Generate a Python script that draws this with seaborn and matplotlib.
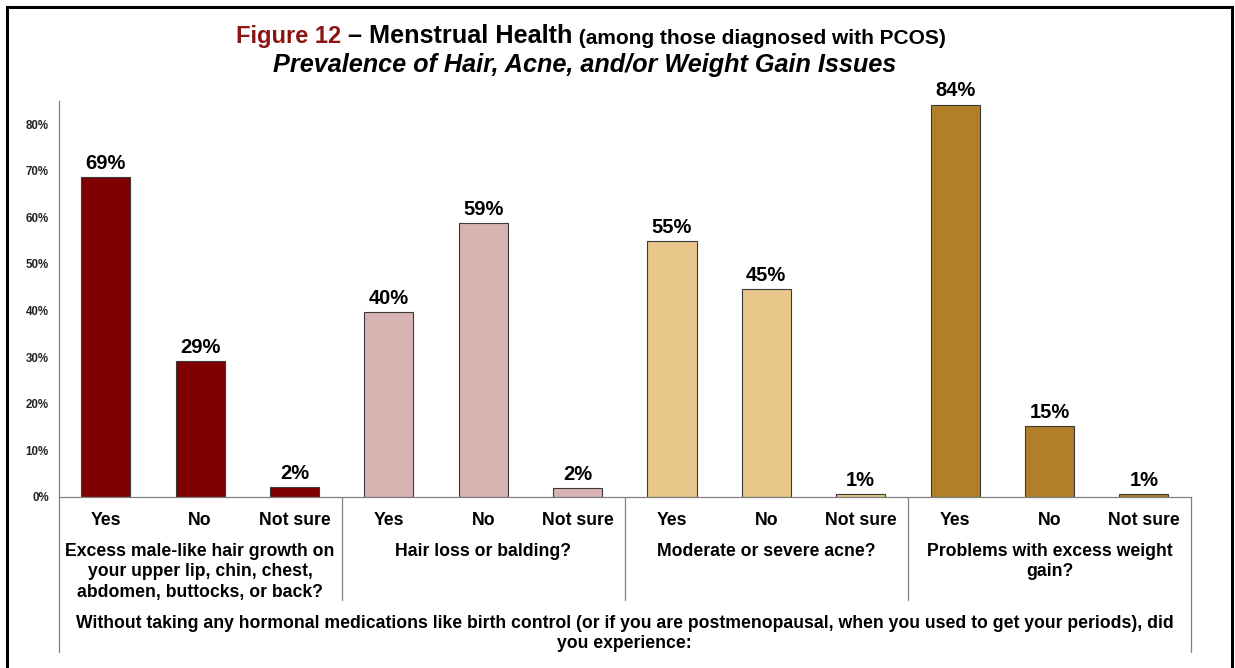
import matplotlib.pyplot as plt
import matplotlib.transforms as mtransforms
from matplotlib.patches import Rectangle
import pandas as pd
import seaborn as sns

# Data
groups = [
    "Excess male-like hair growth on\nyour upper lip, chin, chest,\nabdomen, buttocks, or back?",
    "Hair loss or balding?",
    "Moderate or severe acne?",
    "Problems with excess weight\ngain?",
]
answers = ["Yes", "No", "Not sure"]
hair_growth = [68.7, 29.2, 2.1]
hair_loss = [39.6, 58.7, 1.9]
acne = [54.9, 44.6, 0.6]
weight_gain = [84.2, 15.2, 0.6]
group_colors = ["#800000", "#D9B2B2", "#E9C78B", "#B07F27"]
y_ticks = [0, 10, 20, 30, 40, 50, 60, 70, 80]

# long format table for seaborn
rows = []
for g, vals in zip(groups, [hair_growth, hair_loss, acne, weight_gain]):
    for a, v in zip(answers, vals):
        rows.append({"bar": g + "|" + a, "group": g, "answer": a, "value": v})
df = pd.DataFrame(rows)

sns.set_style("white")
plt.rcParams["font.family"] = ["Liberation Sans", "DejaVu Sans"]
plt.rcParams["font.weight"] = "bold"
plt.rcParams["text.color"] = "black"
plt.rcParams["xtick.color"] = "black"
plt.rcParams["ytick.color"] = "black"

fig = plt.figure(figsize=(12.35, 6.68), dpi=100)
ax = fig.add_axes([0.0474, 0.256, 0.917, 0.593])

sns.barplot(data=df, x="bar", y="value", hue="group", order=list(df["bar"]),
            hue_order=groups, palette=group_colors, saturation=1, dodge=False, width=0.52,
            edgecolor="#3a3a3a", linewidth=0.8, legend=False, ax=ax)

for cont in ax.containers:
    ax.bar_label(cont, fmt="{:.0f}%", padding=3, fontsize=14.5, fontweight="bold")

ax.set_xlim(-0.5, len(df) - 0.5)
ax.set_ylim(0, 85)
ax.set_yticks(y_ticks)
ax.set_yticklabels([f"{t}%" for t in y_ticks], fontsize=8.3, fontweight="bold", color="#222222")
ax.set_xticks(range(len(df)))
ax.set_xticklabels(df["answer"], fontsize=12.7, fontweight="bold")
ax.tick_params(axis="both", length=0)
ax.tick_params(axis="y", pad=7)
ax.tick_params(axis="x", pad=10.5)
ax.set_xlabel("")
ax.set_ylabel("")

for s in ["top", "right"]:
    ax.spines[s].set_visible(False)
for s in ["left", "bottom"]:
    ax.spines[s].set_color("#808080")
    ax.spines[s].set_linewidth(0.9)

# lines below the axis: outer frame and group separators
trans = mtransforms.blended_transform_factory(ax.transData, ax.transAxes)
ax.plot([-0.5, -0.5], [0, -0.391], transform=trans, color="#808080", lw=0.9, clip_on=False)
ax.plot([11.5, 11.5], [0, -0.391], transform=trans, color="#808080", lw=0.9, clip_on=False)
for k in range(1, len(groups)):
    x = k * len(answers) - 0.5
    ax.plot([x, x], [0, -0.26], transform=trans, color="#808080", lw=0.9, clip_on=False)

# group labels
for k, g in enumerate(groups):
    ax.text(k * len(answers) + 1, -0.115, g, transform=trans, ha="center", va="top",
            fontsize=12.7, fontweight="bold", linespacing=1.3)

ax.text(5.5, -0.297, "Without taking any hormonal medications like birth control (or if you are "
        "postmenopausal, when you used to get your periods), did\nyou experience:",
        transform=trans, ha="center", va="top", fontsize=12.7, fontweight="bold",
        linespacing=1.22)

# title
t1 = fig.text(236 / 1235, 1 - 43 / 668, "Figure 12", color="#8B1414", fontsize=17,
              fontweight="bold", va="baseline")
t2 = ax.annotate(" \u2013 Menstrual Health", xy=(1, 0), xycoords=t1, va="bottom",
                 fontsize=18.2, fontweight="bold", annotation_clip=False)
ax.annotate(" (among those diagnosed with PCOS)", xy=(1, 0), xycoords=t2, va="bottom",
            fontsize=15, fontweight="bold", annotation_clip=False)
fig.text(585 / 1235, 1 - 72 / 668, "Prevalence of Hair, Acne, and/or Weight Gain Issues",
         fontsize=18.2, fontweight="bold", style="italic", ha="center", va="baseline")

# frame around the figure
fig.add_artist(Rectangle((7 / 1235, -0.05), (1232 - 7) / 1235, 1 - 7 / 668 + 0.05,
                         transform=fig.transFigure, fill=False, edgecolor="black", lw=2.2))

fig.savefig("out.png", dpi=100)
